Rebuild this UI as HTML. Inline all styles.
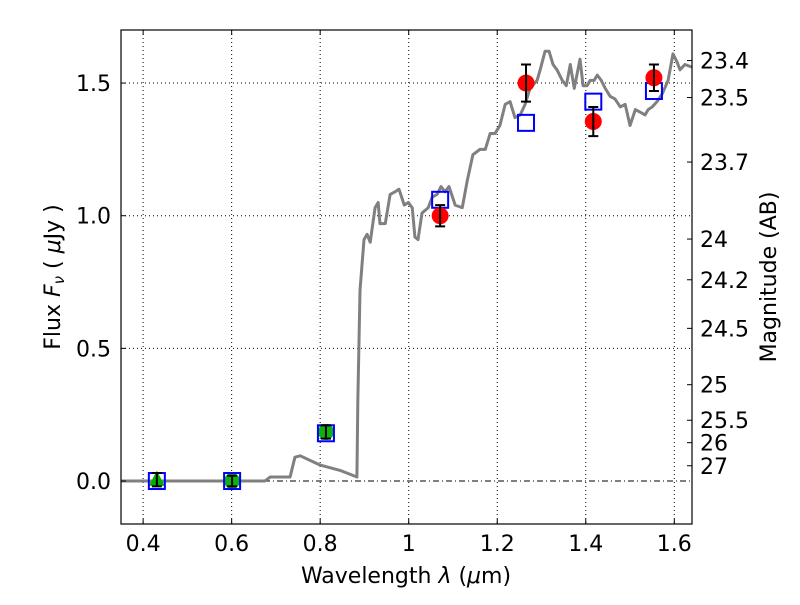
<!DOCTYPE html>
<html><head><meta charset="utf-8"><style>
body{margin:0;background:#fff}
text{font-family:"DejaVu Sans","Liberation Sans",sans-serif;fill:#000}
</style></head><body>
<svg id="chart" width="800" height="600" xmlns="http://www.w3.org/2000/svg">
<rect x="0" y="0" width="800" height="600" fill="#fff"/>
<g id="grid"></g>
<g id="marks"></g>
<g id="axes"></g>
</svg>
<script>
const specWave=[0.35,0.675,0.687,0.732,0.743,0.755,0.80,0.845,0.883,0.885,0.89,0.899,0.906,0.913,0.924,0.931,0.935,0.947,0.958,0.969,0.978,0.990,0.999,1.008,1.014,1.021,1.030,1.044,1.053,1.064,1.073,1.082,1.091,1.105,1.121,1.132,1.145,1.161,1.173,1.184,1.195,1.206,1.218,1.229,1.240,1.252,1.263,1.274,1.290,1.297,1.308,1.317,1.326,1.335,1.347,1.356,1.365,1.374,1.387,1.394,1.403,1.410,1.419,1.426,1.435,1.444,1.455,1.466,1.478,1.489,1.500,1.512,1.523,1.534,1.541,1.550,1.561,1.573,1.586,1.597,1.606,1.613,1.624,1.64];
const specFlux=[0,0,0.015,0.015,0.09,0.095,0.06,0.04,0.015,0.30,0.72,0.91,0.93,0.90,1.03,1.05,0.97,0.97,1.08,1.09,1.10,1.04,1.05,1.03,0.92,0.91,1.01,1.03,1.07,1.08,1.11,1.09,1.11,1.04,1.03,1.13,1.23,1.25,1.25,1.31,1.31,1.34,1.42,1.43,1.37,1.38,1.42,1.48,1.51,1.55,1.62,1.62,1.57,1.55,1.51,1.49,1.57,1.48,1.59,1.49,1.49,1.51,1.51,1.53,1.51,1.48,1.45,1.44,1.41,1.42,1.34,1.40,1.39,1.38,1.40,1.41,1.43,1.46,1.51,1.61,1.58,1.55,1.57,1.56];
const obsWave=[1.071,1.265,1.417,1.554];
const obsFlux=[1.00,1.50,1.355,1.52];
const obsErr=[0.04,0.07,0.055,0.05];
const modelWave=[0.431,0.601,0.813,1.071,1.265,1.417,1.554];
const modelFlux=[0,0,0.18,1.06,1.35,1.43,1.47];
const greenWave=[0.431,0.601,0.813];
const greenFlux=[0.005,0.0,0.185];
const greenErr=[0.025,0.02,0.025];
const xTicks=[0.4,0.6,0.8,1.0,1.2,1.4,1.6];
const xTickLabels=["0.4","0.6","0.8","1","1.2","1.4","1.6"];
const yTicks=[0,0.5,1.0,1.5];
const yTickLabels=["0.0","0.5","1.0","1.5"];
const magTicks=[23.4,23.5,23.7,24,24.2,24.5,25,25.5,26,27];

const L=121,R=692,T=30,B=524,X0=0.35,X1=1.64,Y0=-0.162,Y1=1.70;
const sx=v=>L+(v-X0)/(X1-X0)*(R-L);
const sy=v=>B-(v-Y0)/(Y1-Y0)*(B-T);
const NS="http://www.w3.org/2000/svg";
function mk(parent,tag,attrs){const e=document.createElementNS(NS,tag);for(const k in attrs)e.setAttribute(k,attrs[k]);document.getElementById(parent).appendChild(e);return e;}

xTicks.forEach(v=>{const e=mk('grid','line',{x1:sx(v),x2:sx(v),y1:T,y2:B,stroke:'#000','stroke-width':1,'stroke-dasharray':'1,3'});

});
yTicks.forEach(v=>{if(v===0)return;const e=mk('grid','line',{x1:L,x2:R,y1:sy(v),y2:sy(v),stroke:'#000','stroke-width':1,'stroke-dasharray':'1,3'});

});
const zl=mk('grid','line',{x1:L,x2:R,y1:sy(0),y2:sy(0),stroke:'#000','stroke-width':1,'stroke-dasharray':'6,3,1,3'});



const sp=mk('marks','polyline',{points:specWave.map((w,i)=>sx(w)+','+sy(specFlux[i])).join(' '),fill:'none',stroke:'#808080','stroke-width':3,'stroke-linejoin':'round'});



function errbar(w,f,e){const x=sx(w),y1=sy(f-e),y2=sy(f+e);
const g=mk('marks','path',{d:`M${x},${y1}V${y2}M${x-5},${y1}H${x+5}M${x-5},${y2}H${x+5}`,stroke:'#000','stroke-width':2,fill:'none'});

}

greenWave.forEach((w,i)=>{let e;
if(i===0){const x=sx(w),y=sy(greenFlux[i]);e=mk('marks','polygon',{points:`${x},${y-9} ${x-8},${y+6} ${x+8},${y+6}`,fill:'#00b000'});}
else e=mk('marks','circle',{cx:sx(w),cy:sy(greenFlux[i]),r:8,fill:'#10b010'});

});
modelWave.forEach((w,i)=>{const e=mk('marks','rect',{x:sx(w)-8,y:sy(modelFlux[i])-8,width:16,height:16,fill:'none',stroke:'#0000ff','stroke-width':2});

});
greenWave.forEach((w,i)=>errbar(w,greenFlux[i],greenErr[i]));
obsWave.forEach((w,i)=>{const e=mk('marks','circle',{cx:sx(w),cy:sy(obsFlux[i]),r:8.5,fill:'#ff0000'});


errbar(w,obsFlux[i],obsErr[i]);});

const fr=mk('axes','rect',{x:L,y:T,width:R-L,height:B-T,fill:'none',stroke:'#000','stroke-width':1.2});


xTicks.forEach((v,i)=>{const x=sx(v);mk('axes','path',{d:`M${x},${B}v-5M${x},${T}v5`,stroke:'#000'});
const t=mk('axes','text',{x:x,y:B+27,'text-anchor':'middle','font-size':22});t.textContent=xTickLabels[i];

});
yTicks.forEach((v,i)=>{const y=sy(v);mk('axes','path',{d:`M${L},${y}h5`,stroke:'#000'});
const t=mk('axes','text',{x:L-10,y:y+8,'text-anchor':'end','font-size':22});t.textContent=yTickLabels[i];

});
magTicks.forEach(m=>{const y=sy(Math.pow(10,(23.9-m)/2.5));mk('axes','path',{d:`M${R},${y}h-5`,stroke:'#000'});
const t=mk('axes','text',{x:R+8,y:y+8,'font-size':22});t.textContent=String(m);

});
</script>
<svg style="position:absolute;left:0;top:0" width="800" height="600">
<text x="406" y="583" text-anchor="middle" font-size="22">Wavelength  <tspan font-style="italic">λ</tspan> (<tspan font-style="italic">μ</tspan>m)</text>
<text transform="translate(60,277) rotate(-90)" text-anchor="middle" font-size="22">Flux  <tspan font-style="italic">F</tspan><tspan font-style="italic" font-size="15" dy="4">ν</tspan><tspan dy="-4">  ( </tspan><tspan font-style="italic">μ</tspan>Jy )</text>
<text transform="translate(776,277) rotate(-90)" text-anchor="middle" font-size="22">Magnitude (AB)</text>
</svg>
</body></html>
